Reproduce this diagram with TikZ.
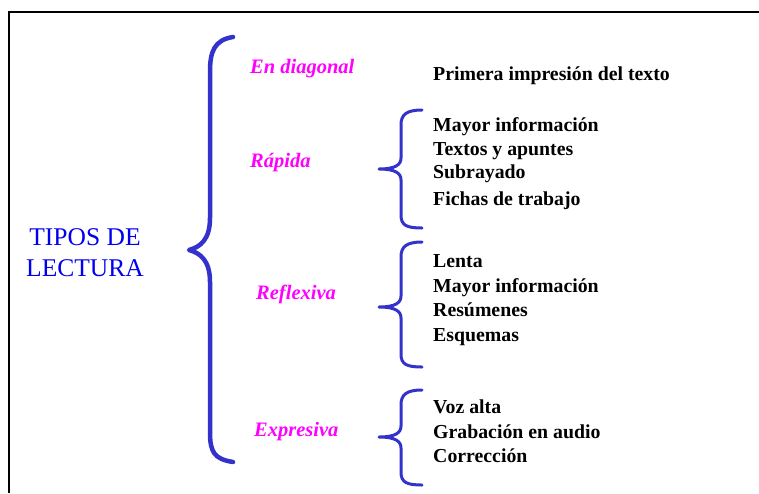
\documentclass[tikz,border=0pt]{standalone}
\usepackage{fontspec}
\setmainfont{Liberation Serif}
\usetikzlibrary{positioning}
\definecolor{braceblue}{RGB}{51,51,204}
\definecolor{titleblue}{RGB}{0,0,238}
\definecolor{typemag}{RGB}{255,0,255}

\tikzset{
    bigbrace/.style={draw=braceblue, line width=4.5pt, line cap=round, line join=round},
    smallbrace/.style={draw=braceblue, line width=3pt, line cap=round, line join=round},
    title/.style={text=titleblue, font=\fontsize{25.5}{31}\selectfont, align=center, inner sep=0pt},
    kind/.style={text=typemag, font=\fontsize{20.5}{24}\selectfont\bfseries\itshape, anchor=base west, inner sep=0pt},
    item/.style={text=black, font=\fontsize{19.8}{23}\selectfont\bfseries, anchor=base west, inner sep=0pt}
}

\begin{document}
\begin{tikzpicture}[x=1pt, y=-1pt]
    \useasboundingbox (0,0) rectangle (759,493);
    % frame
    \draw[line width=1.5pt] (759,12) -- (9,12) -- (9,493);

    \node[title] (tipos) at (85,253) {TIPOS DE\\LECTURA};

    % big brace
    \path[bigbrace] (233,37) .. controls (214,40) and (210,52) .. (210,72) -- (210,218)
        .. controls (210,240) and (200,247) .. (189,250)
        .. controls (200,253) and (210,260) .. (210,282) -- (210,432)
        .. controls (210,452) and (214,459) .. (233,462);

    % types
    \node[kind] (diag) at (250,73) {En diagonal};
    \node[kind] (rapida) at (250,167) {Rápida};
    \node[kind] (reflex) at (256,299) {Reflexiva};
    \node[kind] (expres) at (254,436) {Expresiva};

    \node[item] (d1) at (433,80) {Primera impresión del texto};

    % small braces
    \path[smallbrace] (422,110) .. controls (406,110) and (401,115) .. (401,125) -- (401,158)
        .. controls (401,165) and (395,169) .. (379,169)
        .. controls (395,169) and (401,173) .. (401,180) -- (401,215)
        .. controls (401,225) and (406,228) .. (422,228);
    \path[smallbrace] (422,242) .. controls (406,242) and (401,247) .. (401,257) -- (401,296)
        .. controls (401,303) and (395,307) .. (379,307)
        .. controls (395,307) and (401,311) .. (401,318) -- (401,354)
        .. controls (401,364) and (406,367) .. (422,367);
    \path[smallbrace] (422,390) .. controls (406,390) and (401,395) .. (401,405) -- (401,426)
        .. controls (401,433) and (395,437) .. (379,437)
        .. controls (395,437) and (401,441) .. (401,448) -- (401,472)
        .. controls (401,482) and (406,485) .. (422,485);

    \node[item] (r1) at (433,131) {Mayor información};
    \node[item] (r2) at (433,155) {Textos y apuntes};
    \node[item] (r3) at (433,178) {Subrayado};
    \node[item] (r4) at (433,205) {Fichas de trabajo};

    \node[item] (f1) at (433,267) {Lenta};
    \node[item] (f2) at (433,292) {Mayor información};
    \node[item] (f3) at (433,316) {Resúmenes};
    \node[item] (f4) at (433,341) {Esquemas};

    \node[item] (e1) at (433,413) {Voz alta};
    \node[item] (e2) at (433,438) {Grabación en audio};
    \node[item] (e3) at (433,462) {Corrección};
\end{tikzpicture}
\end{document}
